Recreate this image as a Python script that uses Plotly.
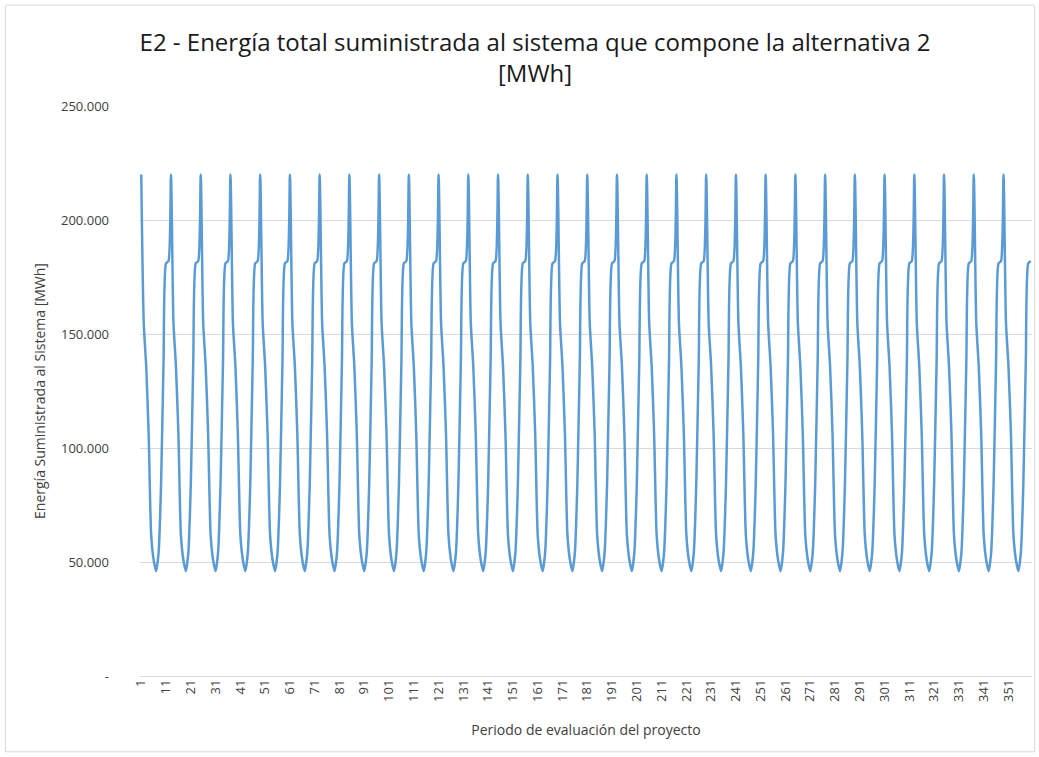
import plotly.graph_objects as go

# Monthly energy supplied to the system over one year of operation [MWh]
monthly_profile = [220000, 155000, 136000, 106000, 62000, 51000,
                   46000, 54000, 84000, 138000, 181000, 182000]
years = 30

periods = list(range(1, 12 * years + 1))
energy = monthly_profile * years

tick_periods = list(range(1, 352, 10))
y_ticks = [0, 50000, 100000, 150000, 200000, 250000]
y_tick_text = ["-", "50.000", "100.000", "150.000", "200.000", "250.000"]

font_family = "Open Sans, Noto Sans, sans-serif"

fig = go.Figure()
fig.add_trace(go.Scatter(
    x=periods,
    y=energy,
    mode="lines",
    line=dict(color="#5B9BD5", width=2.5, shape="spline", smoothing=0.6),
    showlegend=False,
))

fig.update_layout(
    width=1039,
    height=757,
    paper_bgcolor="white",
    plot_bgcolor="white",
    margin=dict(l=140, r=7, t=106, b=81),
    font=dict(family=font_family, color="#595959"),
    title=dict(
        text="E2 - Energía total suministrada al sistema que compone la alternativa 2<br>[MWh]",
        x=0.515,
        xanchor="center",
        y=0.933,
        yanchor="top",
        font=dict(size=24, color="#1a1a1a", family=font_family),
    ),
    xaxis=dict(
        range=[0.5, 360.5],
        tickmode="array",
        tickvals=tick_periods,
        ticktext=[str(t) for t in tick_periods],
        tickangle=-90,
        tickfont=dict(size=13, color="#404040"),
        showgrid=False,
        showline=False,
        zeroline=False,
        ticks="",
        title=dict(text="Periodo de evaluación del proyecto",
                   font=dict(size=14, color="#404040"), standoff=24),
    ),
    yaxis=dict(
        range=[0, 250000],
        tickmode="array",
        tickvals=y_ticks,
        ticktext=y_tick_text,
        tickfont=dict(size=13, color="#404040"),
        showgrid=True,
        gridcolor="#D9D9D9",
        gridwidth=1,
        zeroline=True,
        zerolinecolor="#D9D9D9",
        zerolinewidth=1,
        showline=False,
        ticks="",
        ticklabelstandoff=30,
        title=dict(text="Energía Suministrada al Sistema [MWh]",
                   font=dict(size=14, color="#404040"), standoff=12),
    ),
    shapes=[dict(type="rect", xref="paper", yref="paper",
                 x0=-0.151, x1=1.003, y0=-0.133, y1=1.177,
                 line=dict(color="#D9D9D9", width=1))],
)

fig.write_html("out.html")
